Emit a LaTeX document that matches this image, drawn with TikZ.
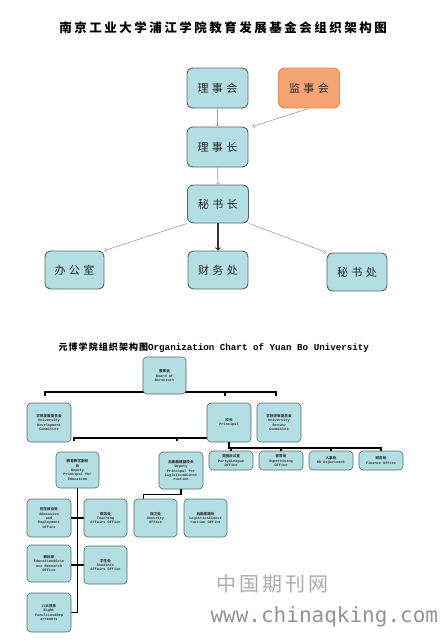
\documentclass[tikz,border=0pt]{standalone}
\usepackage{fontspec}
\usetikzlibrary{calc}
\newfontfamily\cjk{Noto Sans CJK SC}
\newfontfamily\cjkwide[LetterSpace=30]{Noto Sans CJK SC}
\newfontfamily\cjktitle[LetterSpace=20]{Noto Sans CJK SC}
\newfontfamily\cjkmid[LetterSpace=12]{Noto Sans CJK SC}
\newfontfamily\cjkmark[LetterSpace=15]{Noto Sans CJK SC}
\newfontfamily\mono{Liberation Mono}
\newfontfamily\wmsans{DejaVu Sans Mono}
\definecolor{boxfill}{HTML}{B3DEE2}
\definecolor{boxline}{HTML}{566A6E}
\definecolor{orangefill}{HTML}{F5A573}
\definecolor{orangeline}{HTML}{E2894F}
\newcommand{\zh}[1]{{\cjk #1}}
\tikzset{
  fund/.style={
    draw = boxline,
    fill = boxfill,
    rounded corners = 6pt,
    line width = 0.9pt,
    minimum width = 61pt,
    minimum height = 40pt,
    inner sep = 0pt,
    text = black!85,
    font = \cjkwide\fontsize{11}{11}\selectfont
  },
  supervise/.style={
    fund,
    draw = orangeline,
    fill = orangefill
  },
  feed/.style={
    ->,
    draw = gray!75,
    line width = 0.6pt
  },
  mainfeed/.style={
    ->,
    draw = black!80,
    line width = 1.1pt
  },
}
\tikzset{
  org/.style={
    draw = boxline,
    fill = boxfill,
    rounded corners = 4pt,
    line width = 0.6pt,
    minimum width = 44pt,
    minimum height = 38pt,
    inner sep = 1pt,
    align = center,
    text = black!80,
    font = \mono\bfseries\fontsize{3.6}{4.4}\selectfont
  },
  bus/.style={
    line width = 1.1pt
  },
  thickbus/.style={
    line width = 2pt
  },
}
\begin{document}
\begin{tikzpicture}[x=1pt,y=-1pt]
\useasboundingbox (0,0) rectangle (440,642);
% foundation chart
\node[font=\cjktitle\bfseries\fontsize{12.5}{12.5}\selectfont] (title) at (223,28) {南京工业大学浦江学院教育发展基金会组织架构图};
\node[fund] (council) at (217.5,88) {理事会};
\node[supervise] (supervisors) at (309,88) {监事会};
\node[fund] (chair) at (217.5,147) {理事长};
\node[fund, minimum height=38pt] (secgen) at (218,204) {秘书长};
\node[fund, minimum height=38pt, minimum width=59pt] (office) at (74.5,270) {办公室};
\node[fund, minimum height=38pt, minimum width=60pt] (finance) at (218,270) {财务处};
\node[fund, minimum height=38pt, minimum width=60pt] (secretariat) at (357,272) {秘书处};
\draw[feed] (council) -- (chair);
\draw[feed] (supervisors.south) -- ([xshift=4pt]chair.north east);
\draw[feed] (chair) -- (secgen);
\draw[mainfeed] (secgen) -- (finance);
\draw[feed] (secgen.south west) -- (office.north east);
\draw[feed] (secgen.south east) -- (secretariat.north west);
% university chart
\node[anchor=west] (title2) at (55,348) {{\cjkmid\bfseries\fontsize{9}{9}\selectfont 元博学院组织架构图}{\mono\bfseries\fontsize{9.2}{9.2}\selectfont Organization Chart of Yuan Bo University}};
\coordinate (b1L) at (45,392);
\coordinate (b1M) at (225,392);
\coordinate (b1R) at (276,392);
\draw[bus] ([yshift=-4pt]b1L) -- (b1L) -- (b1R) -- ([yshift=-4pt]b1R);
\draw[bus] (b1M) -- ([yshift=-4pt]b1M);
\node[org, minimum width=43pt, minimum height=37pt] (board) at (164.5,375.5) {\zh{董事会}\\Board of\\Directors};
\node[org, minimum height=39pt] (develop) at (49,422.5) {\zh{学院发展委员会}\\University\\Development\\Committee};
\node[org, minimum height=39pt] (principal) at (229,422.5) {\zh{校长}\\Principal};
\node[org, minimum height=39pt] (review) at (279,422.5) {\zh{学院评审委员会}\\University\\Review\\Committee};
\coordinate (b2L) at (74,438);
\coordinate (b2M) at (177,438);
\draw[bus] ([yshift=-3pt]b2L) -- (b2L) -- (principal.west |- b2L);
\draw[bus] (b2M) -- ([yshift=-3pt]b2M);
\foreach \x/\nm/\cn/\en in {231/party/党团办公室/Party\&League\\Office,
                           281/supervising/督导处/Supervising\\Office,
                           331/hr/人事处/HR Department,
                           381/financeoff/财务处/Finance Office}{
  \node[org, minimum height=19pt] (\nm) at (\x,460.5) {\zh{\cn}\\\en};
}
\coordinate (b3) at (229,448);
\draw[thickbus] (principal.south) -- (b3) -- (b3 -| financeoff.north) -- (financeoff.north);
\foreach \nm in {party,supervising,hr}
  \draw[thickbus] (\nm.north |- b3) -- (\nm.north);
\node[org, minimum width=43pt, minimum height=36pt] (vpedu) at (77.5,470) {\zh{教育教学副校}\\\zh{长}\\Deputy\\Principal for\\Education};
\node[org, minimum height=37pt] (vplog) at (181,470.5) {\zh{后勤基建副校长}\\Deputy\\Principal for\\Logistics\&Const\\ruction};
\node[org] (admission) at (49,518) {\zh{招生就业处}\\Admission\\and\\Employment\\Office};
\node[org, minimum width=43pt] (teaching) at (105.5,518) {\zh{教务处}\\Teaching\\Affairs Office};
\node[org, minimum width=43pt] (security) at (155.5,518) {\zh{保卫处}\\Security\\Office};
\node[org, minimum width=43pt] (logistics) at (205.5,518) {\zh{后勤基建处}\\Logistics\&Const\\ruction Office};
\node[org, minimum height=37pt] (research) at (49,563.5) {\zh{教科研}\\Education\&Scie\\nce Research\\Office};
\node[org, minimum width=43pt] (students) at (105.5,565) {\zh{学生处}\\Students\\Affairs Office};
\node[org, minimum height=39pt] (faculties) at (49,612.5) {\zh{八大院系}\\Eight\\Faculties\&Dep\\artments};
\draw[bus] (vpedu.south) -- (vpedu.south |- faculties.east) -- (faculties.east);
\draw[bus] (admission.east) -- (teaching.west);
\draw[bus] (research.east |- students.west) -- (students.west);
\draw[bus] (vplog.south) |- ([xshift=-12pt,yshift=4pt]security.north) -- ([xshift=-12pt]security.north);
% watermark
\node[text=gray!65, font=\cjkmark\fontsize{20}{20}\selectfont] (mark) at (272,584) {中国期刊网};
\node[text=gray!85, anchor=west, font=\wmsans\fontsize{21}{21}\selectfont] (site) at (207,617) {www.chinaqking.com};
\end{tikzpicture}
\end{document}
